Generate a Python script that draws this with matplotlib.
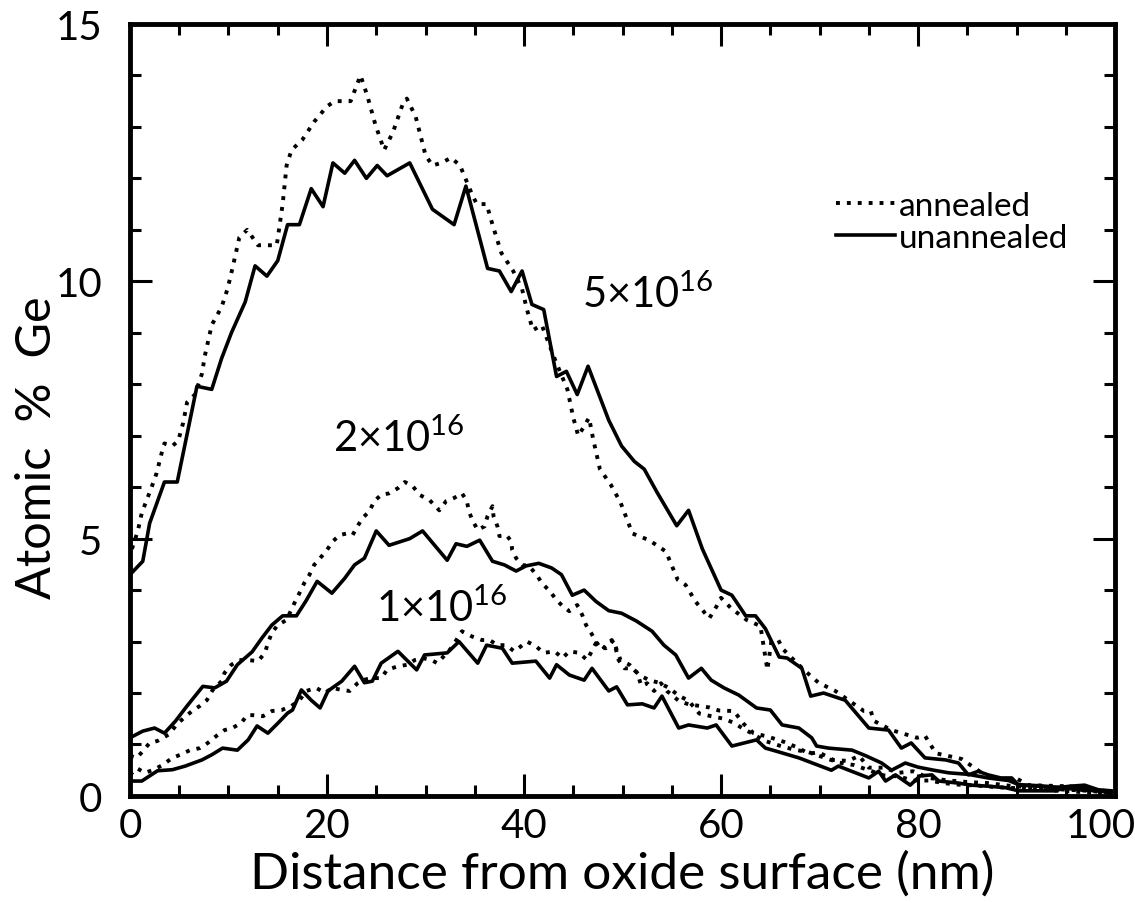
# Ge depth profiles (annealed / unannealed) for three implant doses
import matplotlib.pyplot as plt
from matplotlib.ticker import MultipleLocator, FuncFormatter

plt.rcParams['font.family'] = ['Lato', 'DejaVu Sans']
plt.rcParams['mathtext.fontset'] = 'custom'
plt.rcParams['mathtext.rm'] = 'Lato'
plt.rcParams['mathtext.it'] = 'Lato:italic'
plt.rcParams['mathtext.bf'] = 'Lato:bold'

# --- 5x10^16, unannealed (solid)
x_5_un = [0.0, 1.3, 2.0, 3.5, 4.8, 6.8, 8.3, 9.3, 10.3, 11.7, 12.7, 13.9, 15.0, 16.0, 17.2, 18.4,
          19.6, 20.6, 21.8, 22.8, 24.0, 25.1, 26.1, 28.4, 30.7, 32.9, 34.1, 36.3, 37.5, 38.7, 39.8,
          40.8, 42.0, 43.3, 44.3, 45.4, 46.5, 48.6, 49.9, 51.2, 52.2, 53.5, 55.5, 56.7, 58.1, 60.0,
          61.1, 62.5, 63.5, 64.5, 65.9, 66.7, 68.2, 69.1, 70.4, 72.6, 75.0, 77.0, 78.3, 79.3, 80.7,
          82.8, 84.1, 85.1, 86.1, 87.1, 88.4, 89.5, 90.2, 92.2, 93.9, 95.5, 96.9, 98.3, 99.6]
y_5_un = [4.3, 4.56, 5.3, 6.1, 6.1, 7.96, 7.9, 8.5, 9.0, 9.6, 10.3, 10.1, 10.4, 11.1, 11.1, 11.8,
          11.45, 12.3, 12.1, 12.35, 12.0, 12.25, 12.05, 12.3, 11.4, 11.1, 11.85, 10.25, 10.2, 9.8, 10.2,
          9.55, 9.45, 8.15, 8.25, 7.8, 8.35, 7.3, 6.8, 6.5, 6.35, 5.9, 5.25, 5.55, 4.8, 4.0,
          3.9, 3.5, 3.5, 3.25, 2.7, 2.68, 2.48, 1.94, 2.0, 1.86, 1.32, 1.28, 0.93, 1.03, 0.74,
          0.70, 0.64, 0.41, 0.48, 0.41, 0.35, 0.35, 0.21, 0.19, 0.16, 0.19, 0.21, 0.12, 0.1]

# --- 5x10^16, annealed (dotted)
x_5_an = [0.2, 0.8, 1.2, 1.7, 2.2, 2.7, 3.2, 3.5, 4.3, 4.9, 5.4, 5.8, 6.6, 7.3, 7.6, 8.3, 9.3, 9.9,
          10.4, 11.1, 11.9, 13.0, 14.0, 14.9, 15.5, 15.9, 16.4, 17.5, 18.7, 20.0, 20.8, 22.4, 23.4,
          24.1, 24.9, 25.8, 26.7, 27.7, 28.1, 29.0, 30.0, 30.7, 31.6, 32.6, 33.5, 34.7, 35.2, 36.2,
          36.8, 37.7, 38.9, 39.8, 40.3, 40.9, 41.8, 43.1, 44.4, 45.0, 45.5, 46.0, 46.6, 47.0, 47.7,
          48.8, 49.8, 51.0, 52.7, 54.4, 55.6, 56.4, 57.4, 58.8, 59.5, 60.0, 61.0, 62.6, 64.0, 64.7,
          65.1, 65.8, 66.3, 68.4, 69.9, 71.6, 74.5, 75.2, 75.5, 77.3, 79.9, 80.7, 81.8, 84.4, 86.9,
          89.2, 89.9, 91.2, 94.9, 96.6, 99.0]
y_5_an = [4.8, 5.15, 5.5, 5.75, 6.0, 6.27, 6.65, 6.85, 6.8, 6.9, 7.25, 7.65, 7.8, 8.2, 8.55, 9.15,
          9.5, 9.85, 10.25, 10.85, 11.0, 10.7, 10.7, 10.7, 11.5, 12.25, 12.55, 12.75, 13.1, 13.4,
          13.5, 13.5, 14.0, 13.6, 13.05, 12.55, 12.9, 13.45, 13.55, 13.2, 12.45, 12.25, 12.3, 12.4,
          12.25, 11.7, 11.5, 11.5, 11.1, 10.55, 10.2, 9.85, 9.45, 9.05, 9.15, 8.5, 7.9, 7.35, 7.0,
          7.15, 7.35, 6.95, 6.35, 6.05, 5.7, 5.1, 4.97, 4.75, 4.2, 4.1, 3.78, 3.45, 3.67, 3.85,
          3.65, 3.42, 3.3, 2.45, 3.0, 3.03, 2.85, 2.45, 2.2, 2.04, 1.65, 1.65, 1.46, 1.28, 1.13,
          1.17, 0.83, 0.72, 0.39, 0.31, 0.35, 0.21, 0.19, 0.12, 0.1]

# --- 2x10^16, unannealed (solid)
x_2_un = [0.0, 1.3, 2.5, 3.5, 4.6, 5.8, 7.4, 8.6, 9.8, 10.9, 12.4, 13.4, 14.4, 15.5, 16.9, 17.9,
          19.0, 20.5, 21.8, 22.8, 23.8, 25.0, 26.3, 28.4, 29.7, 32.2, 33.1, 34.2, 35.5, 36.8, 38.0,
          39.2, 40.2, 41.5, 42.8, 43.8, 44.9, 46.1, 47.3, 48.6, 49.9, 51.4, 53.0, 54.2, 55.4, 56.7,
          58.0, 59.0, 60.3, 61.8, 63.6, 65.0, 66.2, 67.9, 69.2, 69.7, 70.9, 73.3, 74.7, 76.3, 77.3,
          78.7, 80.0, 81.6, 83.1, 85.1, 87.1, 89.2, 90.2, 92.2, 94.2, 96.3, 98.3, 99.6]
y_2_un = [1.13, 1.26, 1.32, 1.22, 1.45, 1.75, 2.13, 2.1, 2.23, 2.55, 2.8, 3.07, 3.32, 3.5, 3.5, 3.8,
          4.17, 3.94, 4.23, 4.49, 4.62, 5.15, 4.87, 5.0, 5.15, 4.58, 4.9, 4.85, 4.97, 4.56, 4.49,
          4.37, 4.47, 4.52, 4.43, 4.3, 3.9, 4.0, 3.78, 3.6, 3.55, 3.4, 3.2, 2.93, 2.74, 2.29,
          2.48, 2.25, 2.1, 1.96, 1.71, 1.67, 1.38, 1.32, 1.13, 0.97, 0.93, 0.89, 0.78, 0.64, 0.5,
          0.64, 0.56, 0.5, 0.45, 0.42, 0.35, 0.3, 0.22, 0.2, 0.17, 0.12, 0.1, 0.08]

# --- 2x10^16, annealed (dotted)
x_2_an = [0.0, 0.7, 1.3, 2.0, 2.8, 3.9, 4.9, 6.3, 7.1, 7.8, 8.4, 9.3, 9.6, 10.3, 11.1, 12.0, 13.0,
          13.7, 14.0, 14.4, 15.0, 15.9, 16.7, 17.2, 17.7, 18.2, 18.7, 19.3, 20.0, 20.6, 21.3, 22.0,
          22.6, 23.1, 23.6, 24.3, 24.8, 25.5, 26.3, 27.2, 27.9, 28.7, 29.4, 30.4, 31.4, 32.1, 32.9,
          33.7, 34.2, 34.4, 34.8, 35.3, 36.0, 36.3, 36.8, 36.9, 37.3, 37.5, 38.2, 38.7, 38.8, 39.2,
          39.8, 40.5, 41.3, 41.8, 42.6, 43.3, 43.9, 44.6, 45.4, 45.9, 46.3, 46.8, 47.3, 47.9, 48.4,
          48.9, 49.3, 49.6, 50.2, 51.0, 51.5, 51.9, 52.5, 53.2, 53.9, 54.5, 55.7, 56.7, 57.8, 58.8,
          59.8, 61.3, 62.3, 63.3, 64.8, 66.4, 67.9, 68.9, 69.9, 71.4, 72.9, 74.0, 75.0, 76.5, 78.0,
          79.5, 81.1, 83.1, 85.1, 87.1, 89.2, 91.2, 93.2, 95.2, 97.3, 99.6]
y_2_an = [0.78, 0.74, 0.87, 1.03, 1.07, 1.19, 1.42, 1.65, 1.75, 1.86, 2.06, 2.23, 2.39, 2.55, 2.64,
          2.64, 2.62, 2.78, 2.97, 3.17, 3.32, 3.42, 3.75, 3.94, 4.14, 4.29, 4.49, 4.62, 4.78, 4.95,
          5.07, 5.1, 5.07, 5.24, 5.4, 5.53, 5.73, 5.85, 5.88, 5.98, 6.1, 6.02, 5.85, 5.75, 5.55,
          5.73, 5.79, 5.88, 5.73, 5.53, 5.34, 5.17, 5.24, 5.44, 5.63, 5.44, 5.24, 5.05, 5.07, 4.95,
          4.78, 4.62, 4.49, 4.47, 4.29, 4.14, 3.98, 3.81, 3.69, 3.59, 3.71, 3.52, 3.32, 3.17, 3.0,
          2.84, 2.93, 3.03, 2.87, 2.64, 2.48, 2.48, 2.39, 2.14, 2.19, 2.04, 2.19, 2.04, 1.85, 1.78,
          1.75, 1.72, 1.66, 1.65, 1.4, 1.22, 1.15, 1.05, 0.93, 0.82, 0.85, 0.7, 0.68, 0.78, 0.55,
          0.55, 0.45, 0.48, 0.35, 0.3, 0.27, 0.25, 0.2, 0.17, 0.14, 0.12, 0.1, 0.06]

# --- 1x10^16, unannealed (solid)
x_1_un = [0.0, 1.2, 2.0, 2.8, 4.3, 5.6, 7.3, 8.3, 9.4, 10.9, 12.0, 12.9, 14.0, 15.2, 16.0, 16.5,
          17.4, 18.4, 19.3, 20.1, 21.5, 22.8, 23.8, 24.6, 25.5, 27.2, 29.1, 29.9, 32.2, 33.4, 35.3,
          36.2, 37.8, 38.8, 41.2, 42.6, 43.3, 44.6, 46.1, 46.9, 48.6, 49.4, 50.5, 52.0, 53.2, 54.0,
          55.7, 56.7, 58.6, 59.5, 61.1, 63.6, 64.5, 65.6, 67.9, 71.2, 71.9, 75.0, 76.0, 76.7, 77.7,
          79.2, 80.2, 81.4, 82.1, 84.1, 85.4, 87.1, 88.9, 90.2, 93.9, 95.5, 96.6, 98.3, 99.6]
y_1_un = [0.29, 0.29, 0.39, 0.49, 0.51, 0.58, 0.70, 0.8, 0.93, 0.89, 1.09, 1.36, 1.22, 1.45, 1.61,
          1.67, 2.06, 1.86, 1.71, 2.04, 2.23, 2.52, 2.2, 2.23, 2.58, 2.81, 2.45, 2.74, 2.78, 3.0,
          2.58, 2.93, 2.87, 2.58, 2.62, 2.29, 2.55, 2.35, 2.25, 2.48, 2.04, 2.12, 1.77, 1.79, 1.71,
          1.94, 1.32, 1.38, 1.32, 1.38, 0.97, 1.09, 0.93, 0.87, 0.74, 0.5, 0.58, 0.35, 0.48, 0.29,
          0.41, 0.21, 0.39, 0.41, 0.29, 0.25, 0.21, 0.19, 0.16, 0.1, 0.1, 0.19, 0.16, 0.1, 0.06]

# --- 1x10^16, annealed (dotted)
x_1_an = [0.0, 0.7, 1.5, 2.3, 3.3, 4.3, 5.1, 6.1, 7.1, 7.9, 8.8, 9.6, 10.4, 11.3, 11.9, 12.5, 13.5,
          14.4, 15.4, 16.4, 17.2, 17.9, 18.9, 19.8, 20.5, 21.5, 22.3, 23.1, 23.6, 24.5, 25.5, 26.1,
          27.2, 28.2, 28.9, 29.7, 30.6, 31.2, 32.6, 33.7, 34.7, 35.7, 36.5, 37.3, 38.2, 39.0, 39.7,
          40.3, 41.2, 42.0, 43.1, 43.9, 44.6, 45.6, 46.4, 47.3, 48.3, 49.1, 49.4, 49.8, 50.7, 51.7,
          52.7, 53.7, 54.7, 55.7, 56.7, 57.8, 59.0, 60.3, 61.3, 62.3, 63.3, 64.3, 65.9, 67.4, 68.9,
          70.4, 71.9, 73.5, 75.0, 76.5, 78.0, 79.5, 81.1, 82.6, 84.1, 86.1, 88.1, 90.2, 92.2, 94.2,
          96.3, 99.6]
y_1_an = [0.41, 0.54, 0.45, 0.5, 0.6, 0.74, 0.8, 0.89, 0.93, 1.03, 1.17, 1.28, 1.32, 1.42, 1.57,
          1.57, 1.55, 1.65, 1.67, 1.75, 1.86, 2.04, 2.1, 2.0, 2.1, 2.06, 2.04, 2.19, 2.25, 2.29,
          2.29, 2.45, 2.52, 2.55, 2.64, 2.68, 2.64, 2.58, 2.87, 3.2, 3.1, 3.03, 3.03, 2.93, 2.93,
          2.81, 2.91, 3.0, 2.91, 2.78, 2.81, 2.68, 2.81, 2.78, 2.64, 2.97, 2.87, 3.03, 2.84, 2.64,
          2.55, 2.35, 2.25, 2.2, 2.1, 1.95, 1.85, 1.6, 1.55, 1.5, 1.42, 1.3, 1.2, 1.08, 0.98, 0.9,
          0.85, 0.75, 0.65, 0.6, 0.5, 0.4, 0.38, 0.3, 0.3, 0.25, 0.22, 0.2, 0.17, 0.15, 0.12, 0.1,
          0.08, 0.05]

dose_labels = ['5×10$^{16}$', '2×10$^{16}$', '1×10$^{16}$']
label_pos = [(45.9, 9.5), (20.6, 6.7), (25.0, 3.4)]

fig = plt.figure(figsize=(11.35, 9.04), dpi=100)
ax = fig.add_axes([0.1145, 0.1184, 0.868, 0.854])

dot = (0, (1, 1.8))
lw_solid = 2.6
lw_dot = 2.8
ax.plot(x_5_an, y_5_an, color='k', lw=lw_dot, ls=dot, label='annealed')
ax.plot(x_5_un, y_5_un, color='k', lw=lw_solid, label='unannealed')
ax.plot(x_2_an, y_2_an, color='k', lw=lw_dot, ls=dot)
ax.plot(x_2_un, y_2_un, color='k', lw=lw_solid)
ax.plot(x_1_an, y_1_an, color='k', lw=lw_dot, ls=dot)
ax.plot(x_1_un, y_1_un, color='k', lw=lw_solid)

for lab, (tx, ty) in zip(dose_labels, label_pos):
    ax.text(tx, ty, lab, fontsize=30, ha='left', va='baseline')

ax.set_xlim(0, 100)
ax.set_ylim(0, 15)
ax.xaxis.set_major_locator(MultipleLocator(20))
ax.xaxis.set_minor_locator(MultipleLocator(5))
ax.yaxis.set_major_locator(MultipleLocator(5))
ax.yaxis.set_minor_locator(MultipleLocator(1))
# the "100" label is drawn separately, a bit left of its tick, as in the original
ax.xaxis.set_major_formatter(FuncFormatter(lambda v, p: '' if v > 99 else '%d' % v))
ax.tick_params(which='both', direction='in', top=True, right=True, width=2.2)
ax.tick_params(which='major', length=16, labelsize=29)
ax.tick_params(axis='x', which='major', pad=8)
ax.tick_params(axis='y', which='major', pad=20)
ax.tick_params(which='minor', length=8)
for sp in ax.spines.values():
    sp.set_linewidth(3.5)
ax.annotate('100', xy=(100, 0), xycoords='data', xytext=(-10, -8), textcoords='offset points',
            ha='center', va='top', fontsize=29)

ax.set_xlabel('Distance from oxide surface (nm)', fontsize=37, labelpad=4)
ax.set_ylabel('Atomic  %  Ge', fontsize=35)
ax.yaxis.set_label_coords(-0.072, 0.452)

ax.legend(loc='upper left', bbox_to_anchor=(0.70, 0.805), frameon=False, fontsize=24,
          handlelength=1.75, handletextpad=0.12, labelspacing=0.05, borderpad=0)

fig.savefig('out.png', dpi=100)
